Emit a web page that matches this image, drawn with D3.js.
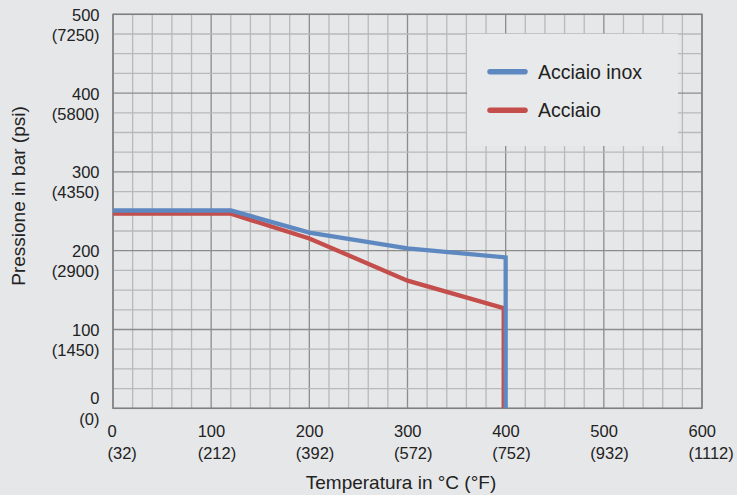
<!DOCTYPE html>
<html lang="it">
<head>
<meta charset="utf-8">
<script src="https://d3js.org/d3.v7.min.js"></script>
<style type="text/css">
  body {
    margin: 0;
    background: #e6e7e9;
    font-family: "Liberation Sans", Arial, Helvetica, sans-serif;
  }
  text { fill: #222; }
</style>
</head>
<body>
<script type="text/javascript">

  // Data
  var inoxT = [0, 120, 200, 300, 400, 400];
  var inoxP = [251, 251, 223, 203, 191.5, 0];
  var acciaioT = [0, 120, 200, 300, 398, 398];
  var acciaioP = [247, 247, 215.5, 162, 127, 0];

  var xTicks = [0, 100, 200, 300, 400, 500, 600];
  var xTicksF = ["(32)", "(212)", "(392)", "(572)", "(752)", "(932)", "(1112)"];
  var yTicks = [0, 100, 200, 300, 400, 500];
  var yTicksPsi = ["(0)", "(1450)", "(2900)", "(4350)", "(5800)", "(7250)"];

  var seriesNames = ["Acciaio inox", "Acciaio"];
  var seriesColors = ["#5e88c0", "#c44e4b"];

  var width = 737;
  var height = 495;

  var x = d3.scaleLinear().domain([0, 600]).range([113, 702]);
  var y = d3.scaleLinear().domain([0, 500]).range([408.3, 14.3]);

  var svg = d3.select("body")
    .append("svg")
    .attr("width", width)
    .attr("height", height);

  // grid: minor every 20 °C / 25 bar, major every 100
  var grid = svg.append("g");
  grid.selectAll("line.v")
    .data(d3.range(0, 601, 20))
    .enter().append("line")
    .attr("x1", function(d) { return x(d); })
    .attr("x2", function(d) { return x(d); })
    .attr("y1", y(0)).attr("y2", y(500))
    .style("stroke", function(d) { return d % 100 === 0 ? "#8c8c8c" : "#b9b9b9"; })
    .style("stroke-width", 1.3);

  grid.selectAll("line.h")
    .data(d3.range(0, 501, 25))
    .enter().append("line")
    .attr("y1", function(d) { return y(d); })
    .attr("y2", function(d) { return y(d); })
    .attr("x1", x(0)).attr("x2", x(600))
    .style("stroke", function(d) { return d % 100 === 0 ? "#8c8c8c" : "#b9b9b9"; })
    .style("stroke-width", 1.3);

  // plot border
  svg.append("rect")
    .attr("x", x(0)).attr("y", y(500))
    .attr("width", x(600) - x(0)).attr("height", y(0) - y(500))
    .style("fill", "none")
    .style("stroke", "#808080")
    .style("stroke-width", 1.5);

  // x tick labels (°C over °F)
  var xAxis = svg.append("g")
    .attr("transform", "translate(0," + y(0) + ")")
    .call(d3.axisBottom(x).tickValues(xTicks).tickSize(0).tickFormat(""));
  xAxis.select(".domain").remove();
  xAxis.selectAll(".tick").each(function(d, i) {
    var dx = d === 0 ? -6 : -14;
    var t = d3.select(this).append("text")
      .attr("text-anchor", "start")
      .style("font-size", "16.5px");
    t.append("tspan").attr("x", dx).attr("y", 28.5).text(d);
    t.append("tspan").attr("x", dx).attr("y", 50.5).text(xTicksF[i]);
  });

  // y tick labels (bar over psi)
  var yAxis = svg.append("g")
    .attr("transform", "translate(99.5,0)")
    .call(d3.axisLeft(y).tickValues(yTicks).tickSize(0).tickFormat(""));
  yAxis.select(".domain").remove();
  yAxis.selectAll(".tick").each(function(d, i) {
    var t = d3.select(this).append("text")
      .attr("text-anchor", "end")
      .style("font-size", "16.5px");
    t.append("tspan").attr("x", 0).attr("y", d === 0 ? -4.5 : 6).text(d);
    t.append("tspan").attr("x", 0).attr("y", d === 0 ? 16 : 26).text(yTicksPsi[i]);
  });

  // axis titles
  svg.append("text")
    .attr("x", 401)
    .attr("y", 489)
    .attr("text-anchor", "middle")
    .style("font-size", "19px")
    .text("Temperatura in °C (°F)");

  svg.append("text")
    .attr("transform", "translate(25,196) rotate(-90)")
    .attr("text-anchor", "middle")
    .style("font-size", "19px")
    .text("Pressione in bar (psi)");

  // legend box covers the grid
  svg.append("rect")
    .attr("x", 467).attr("y", 34)
    .attr("width", 211).attr("height", 112)
    .style("fill", "#e8e9ea");

  // lines
  var line = d3.line()
    .x(function(d) { return x(d[0]); })
    .y(function(d) { return y(d[1]); });

  var series = [
    d3.zip(inoxT, inoxP),
    d3.zip(acciaioT, acciaioP)
  ];

  // steel under stainless
  [1, 0].forEach(function(i) {
    svg.append("path")
      .datum(series[i])
      .attr("d", line)
      .style("fill", "none")
      .style("stroke", seriesColors[i])
      .style("stroke-width", 4.3)
      .style("stroke-linejoin", "miter");
  });

  var legend = svg.selectAll("g.legend")
    .data(seriesNames)
    .enter().append("g")
    .attr("transform", function(d, i) { return "translate(490," + (71.7 + i * 38.5) + ")"; });

  legend.append("line")
    .attr("x1", 0).attr("x2", 35)
    .attr("y1", 0).attr("y2", 0)
    .style("stroke", function(d, i) { return seriesColors[i]; })
    .style("stroke-width", 5.5)
    .style("stroke-linecap", "round");

  legend.append("text")
    .attr("x", 48)
    .attr("y", 7)
    .style("font-size", "19.5px")
    .text(function(d) { return d; });

</script>
</body>
</html>
